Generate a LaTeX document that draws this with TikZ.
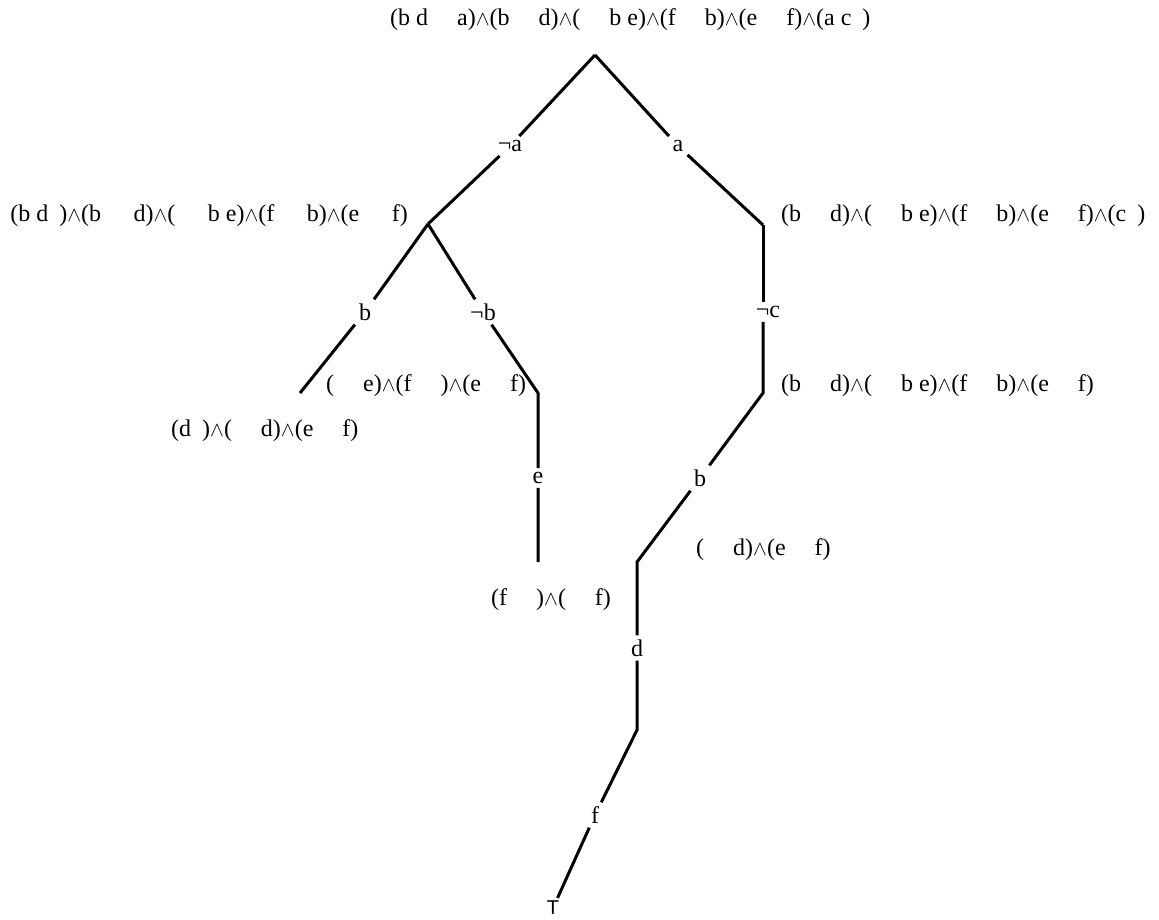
\documentclass[tikz,border=0pt]{standalone}
\usepackage{fontspec}
\setmainfont{Liberation Serif}
\newfontfamily\tfont{Liberation Sans}
\newcommand\W{{\fontsize{20}{20}\selectfont$\wedge$}}
\newcommand\G{\hspace{29pt}}
\newcommand\GG{\hspace{32.5pt}}
\newcommand\g{\hspace{11pt}}
\tikzset{
  lab/.style={font=\fontsize{24}{26}\selectfont, inner sep=4pt},
  frm/.style={font=\fontsize{24}{26}\selectfont, inner sep=0pt},
  br/.style={line width=3pt, line join=miter}
}
\begin{document}
\begin{tikzpicture}[x=1pt,y=-1pt]
\useasboundingbox (0,0) rectangle (1159,919);
% formulas
\node[frm, anchor=west] (f0) at (390,20) {(b d\G a)\W(b\G d)\W(\G b e)\W(f\G b)\W(e\G f)\W(a c\g)};
\node[frm, anchor=east] (f1) at (408,216) {(b d\g)\W(b\GG d)\W(\GG b e)\W(f\GG b)\W(e\GG f)};
\node[frm, anchor=west] (f2) at (781,216) {(b\G d)\W(\G b e)\W(f\G b)\W(e\G f)\W(c\g)};
\node[frm, anchor=west] (f3) at (326,386) {(\G e)\W(f\G)\W(e\G f)};
\node[frm, anchor=west] (f4) at (171,431) {(d\g)\W(\G d)\W(e\G f)};
\node[frm, anchor=west] (f5) at (781,386) {(b\G d)\W(\G b e)\W(f\G b)\W(e\G f)};
\node[frm, anchor=west] (f6) at (491,600) {(f\G)\W(\G f)};
\node[frm, anchor=west] (f7) at (696,550) {(\G d)\W(e\G f)};
% branch points
\coordinate (A) at (595,55);
\coordinate (L1) at (428,224);
\coordinate (R1) at (763,225);
\coordinate (Lb) at (300,393);
\coordinate (Rb) at (538,393);
\coordinate (Re) at (538,562);
\coordinate (R2) at (763,393);
\coordinate (R3) at (637,562);
\coordinate (R4) at (637,730);
% labels
\node[lab] (na) at (510,146) {¬a};
\node[lab] (a) at (678,146) {a};
\node[lab] (b1) at (365,312) {b};
\node[lab] (nb) at (483,312) {¬b};
\node[lab] (e) at (538,478) {e};
\node[lab] (nc) at (768,312) {¬c};
\node[lab] (b2) at (700,478) {b};
\node[lab] (d) at (637,648) {d};
\node[lab] (f) at (595,815) {f};
\node[lab, font=\tfont\fontsize{20}{21}\selectfont, inner sep=3pt] (T) at (553,908) {T};
% branches
\draw[br] (A) -- (na) -- (L1);
\draw[br] (A) -- (a) -- (R1);
\draw[br] (L1) -- (b1) -- (Lb);
\draw[br] (L1) -- (nb) -- (Rb) -- (e) -- (Re);
\draw[br] (R1) -- (R1 |- nc.north);
\draw[br] (R1 |- nc.south) -- (R2) -- (b2) -- (R3) -- (d) -- (R4) -- (f) -- (T);
\end{tikzpicture}
\end{document}
